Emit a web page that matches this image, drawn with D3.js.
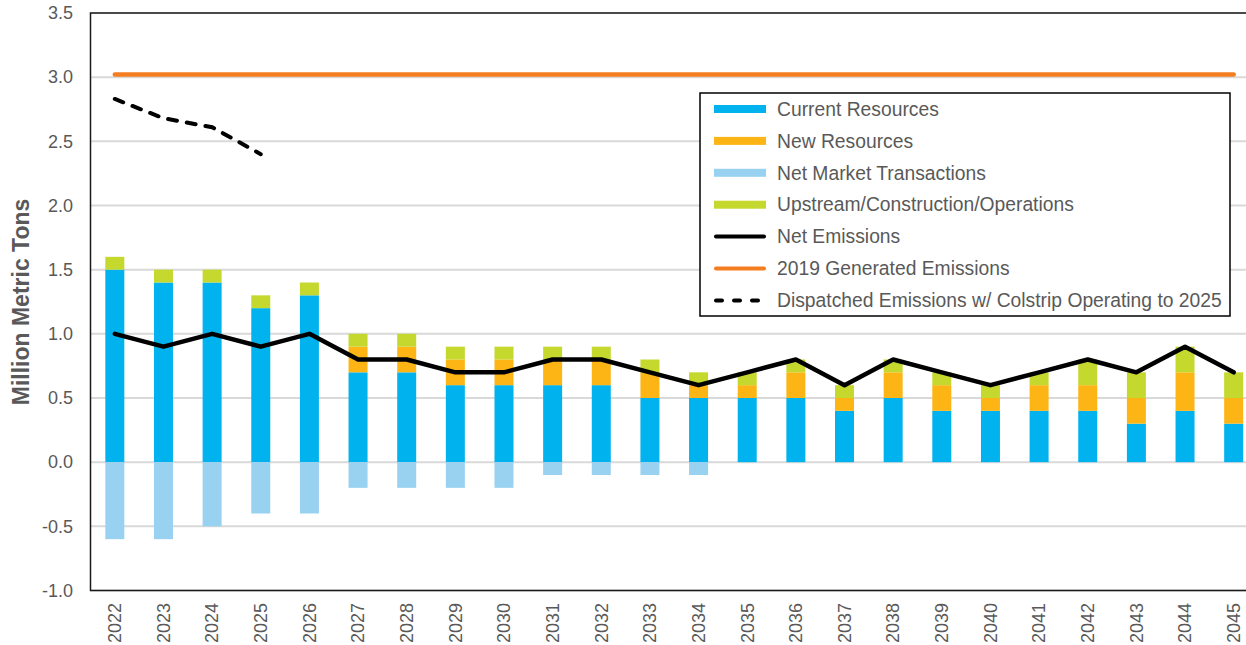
<!DOCTYPE html>
<html>
<head>
<meta charset="utf-8">
<script src="https://cdnjs.cloudflare.com/ajax/libs/d3/7.8.5/d3.min.js"></script>
<style>
body { margin: 0; background: #fff; }
svg { display: block; font-family: "Liberation Sans", Arial, sans-serif; }
</style>
</head>
<body>
<svg id="chart" width="1246" height="645"></svg>
<script>
// values (million metric tons)
var years = ["2022","2023","2024","2025","2026","2027","2028","2029","2030","2031","2032","2033",
             "2034","2035","2036","2037","2038","2039","2040","2041","2042","2043","2044","2045"];
var currentResources = [1.5,1.4,1.4,1.2,1.3,0.7,0.7,0.6,0.6,0.6,0.6,0.5,0.5,0.5,0.5,0.4,0.5,0.4,0.4,0.4,0.4,0.3,0.4,0.3];
var newResources     = [0,0,0,0,0,0.2,0.2,0.2,0.2,0.2,0.2,0.2,0.1,0.1,0.2,0.1,0.2,0.2,0.1,0.2,0.2,0.2,0.3,0.2];
var netMarket        = [-0.6,-0.6,-0.5,-0.4,-0.4,-0.2,-0.2,-0.2,-0.2,-0.1,-0.1,-0.1,-0.1,0,0,0,0,0,0,0,0,0,0,0];
var upstream         = [0.1,0.1,0.1,0.1,0.1,0.1,0.1,0.1,0.1,0.1,0.1,0.1,0.1,0.1,0.1,0.1,0.1,0.1,0.1,0.1,0.2,0.2,0.2,0.2];
var netEmissions     = [1.0,0.9,1.0,0.9,1.0,0.8,0.8,0.7,0.7,0.8,0.8,0.7,0.6,0.7,0.8,0.6,0.8,0.7,0.6,0.7,0.8,0.7,0.9,0.7];
var generated2019 = 3.02;
var dispatchedYears = ["2022","2023","2024","2025"];
var dispatched      = [2.83,2.68,2.61,2.40];
var yTicks = [-1.0,-0.5,0.0,0.5,1.0,1.5,2.0,2.5,3.0,3.5];

var series = [
    {key: "current", name: "Current Resources", color: "#00B2EE", values: currentResources},
    {key: "new", name: "New Resources", color: "#FDB515", values: newResources},
    {key: "market", name: "Net Market Transactions", color: "#99D1F1", values: netMarket},
    {key: "upstream", name: "Upstream/Construction/Operations", color: "#C5D82D", values: upstream}
];

var svg = d3.select("#chart");
var margin = {left: 90.5, top: 13, bottom: 590.5};
var plotRight = 1258;

var x = d3.scaleBand().domain(years).range([margin.left, plotRight]).paddingInner(0).paddingOuter(0);
var y = d3.scaleLinear().domain([-1, 3.5]).range([margin.bottom, margin.top]);
var barW = 19;
var cx = function (yr) { return x(yr) + x.bandwidth() / 2; };

// gridlines
svg.append("g").selectAll("line")
    .data(yTicks)
    .enter().append("line")
    .attr("x1", margin.left).attr("x2", plotRight)
    .attr("y1", function (d) { return y(d); })
    .attr("y2", function (d) { return y(d); })
    .attr("stroke", "#D9D9D9")
    .attr("stroke-width", 2);

// stacked bars
var table = years.map(function (yr, i) {
    var row = {year: yr};
    series.forEach(function (s) { row[s.key] = s.values[i]; });
    return row;
});
var stack = d3.stack().keys(series.map(function (s) { return s.key; }))
    .offset(d3.stackOffsetDiverging);
var layers = stack(table);

svg.append("g").selectAll("g")
    .data(layers)
    .enter().append("g")
    .attr("fill", function (d, i) { return series[i].color; })
    .selectAll("rect")
    .data(function (d) { return d; })
    .enter().append("rect")
    .attr("x", function (d) { return cx(d.data.year) - barW / 2; })
    .attr("width", barW)
    .attr("y", function (d) { return y(Math.max(d[0], d[1])); })
    .attr("height", function (d) { return Math.abs(y(d[0]) - y(d[1])); });

// 2019 generated emissions
svg.append("line")
    .attr("x1", cx(years[0])).attr("x2", cx(years[years.length - 1]))
    .attr("y1", y(generated2019)).attr("y2", y(generated2019))
    .attr("stroke", "#F47D20").attr("stroke-width", 4.5).attr("stroke-linecap", "round");

// net emissions
var line = d3.line()
    .x(function (d) { return cx(d[0]); })
    .y(function (d) { return y(d[1]); });

svg.append("path")
    .datum(d3.zip(years, netEmissions))
    .attr("d", line)
    .attr("fill", "none").attr("stroke", "#000").attr("stroke-width", 4.5)
    .attr("stroke-linejoin", "round").attr("stroke-linecap", "round");

// dispatched emissions w/ Colstrip
svg.append("path")
    .datum(d3.zip(dispatchedYears, dispatched))
    .attr("d", line)
    .attr("fill", "none").attr("stroke", "#000").attr("stroke-width", 4)
    .attr("stroke-dasharray", "9,10").attr("stroke-linecap", "round");

// plot frame
svg.append("rect")
    .attr("x", margin.left).attr("y", margin.top)
    .attr("width", plotRight - margin.left).attr("height", margin.bottom - margin.top)
    .attr("fill", "none").attr("stroke", "#1a1a1a").attr("stroke-width", 1.5);

// y tick labels (plain hyphen for negatives, as in the original)
svg.append("g").selectAll("text")
    .data(yTicks)
    .enter().append("text")
    .attr("x", 73).attr("y", function (d) { return y(d); })
    .attr("dy", "0.35em")
    .attr("text-anchor", "end")
    .attr("fill", "#595959")
    .style("font-size", "18px")
    .text(function (d) { return d.toFixed(1); });

// x labels
svg.append("g").selectAll("text")
    .data(years)
    .enter().append("text")
    .attr("transform", function (d) { return "translate(" + cx(d) + ",603) rotate(-90)"; })
    .attr("dy", "0.35em")
    .attr("text-anchor", "end")
    .attr("fill", "#595959")
    .style("font-size", "18px")
    .text(function (d) { return d; });

// y title
svg.append("text")
    .attr("transform", "translate(21,302) rotate(-90)")
    .attr("dy", "0.35em")
    .attr("text-anchor", "middle")
    .attr("fill", "#595959")
    .style("font-size", "23px")
    .style("font-weight", "bold")
    .text("Million Metric Tons");

// legend
var legendItems = [
    {name: "Current Resources", type: "bar", color: series[0].color},
    {name: "New Resources", type: "bar", color: series[1].color},
    {name: "Net Market Transactions", type: "bar", color: series[2].color},
    {name: "Upstream/Construction/Operations", type: "bar", color: series[3].color},
    {name: "Net Emissions", type: "line", color: "#000"},
    {name: "2019 Generated Emissions", type: "line", color: "#F47D20"},
    {name: "Dispatched Emissions w/ Colstrip Operating to 2025", type: "dash", color: "#000"}
];

var legend = svg.append("g").attr("transform", "translate(700,93)");
legend.append("rect")
    .attr("width", 530).attr("height", 223)
    .attr("fill", "#fff").attr("stroke", "#000").attr("stroke-width", 1.5);

var item = legend.selectAll("g.item")
    .data(legendItems)
    .enter().append("g")
    .attr("class", "item")
    .attr("transform", function (d, i) { return "translate(0," + (16 + i * 31.9) + ")"; });

item.filter(function (d) { return d.type === "bar"; })
    .append("rect")
    .attr("x", 14).attr("y", -4).attr("width", 52).attr("height", 8)
    .attr("fill", function (d) { return d.color; });

item.filter(function (d) { return d.type !== "bar"; })
    .append("line")
    .attr("x1", 16).attr("x2", 64)
    .attr("stroke", function (d) { return d.color; })
    .attr("stroke-width", 4)
    .attr("stroke-linecap", "round")
    .attr("stroke-dasharray", function (d) { return d.type === "dash" ? "6,12" : null; });

item.append("text")
    .attr("x", 77).attr("dy", "0.35em")
    .attr("fill", "#595959")
    .style("font-size", "19.3px")
    .text(function (d) { return d.name; });
</script>
</body>
</html>
